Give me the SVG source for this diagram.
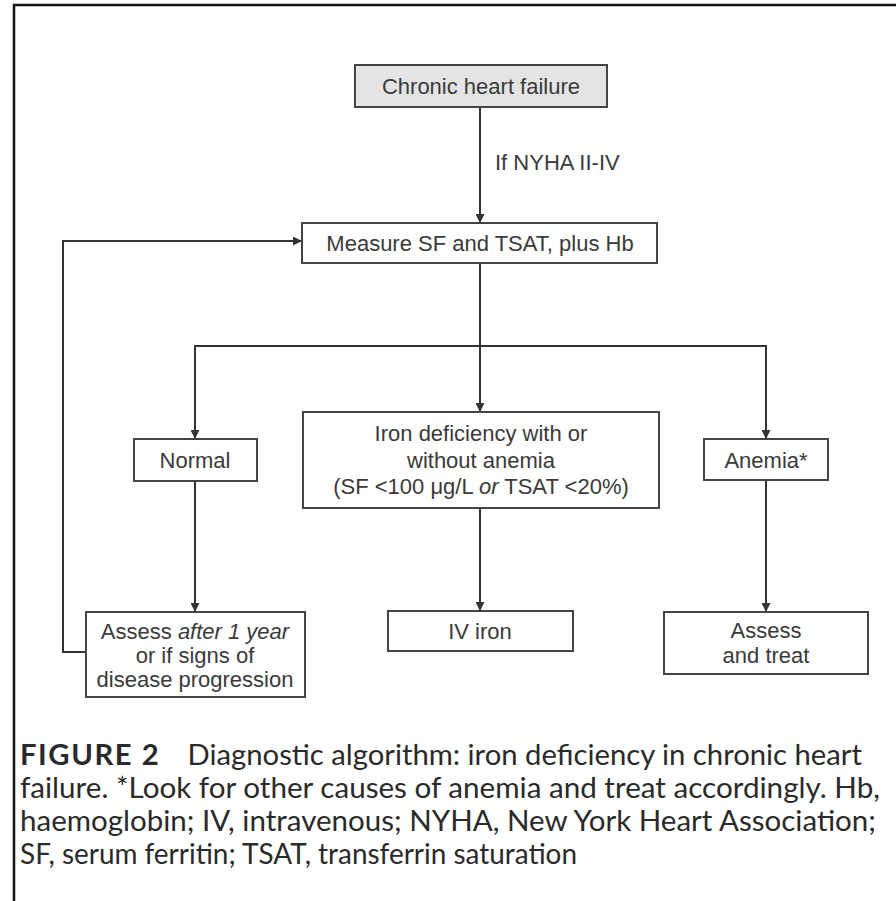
<svg xmlns="http://www.w3.org/2000/svg" width="896" height="901" viewBox="0 0 896 901">
<defs>
<marker id="ah" viewBox="0 0 10 10" refX="10" refY="5" markerWidth="9" markerHeight="9" markerUnits="userSpaceOnUse" orient="auto">
<path d="M0,0 L10,5 L0,10 Z" fill="#333"/>
</marker>
</defs>
<style>
.box{fill:#fff;stroke:#444;stroke-width:2}
.grey{fill:#e4e4e4}
.t{font-family:"Liberation Sans",Arial,sans-serif;font-size:22px;fill:#3a3a3a;text-anchor:middle}
.lbl{font-family:"Liberation Sans",Arial,sans-serif;font-size:22px;fill:#3a3a3a}
.c{fill:none;stroke:#333;stroke-width:2}
.cap{font-family:Lato,"Open Sans",sans-serif;font-size:28px;fill:#2a2a2a}
.frame{fill:none;stroke:#111;stroke-width:2.5}
</style>
<rect width="896" height="901" fill="#fff"/>
<path class="frame" d="M14,901 V5 H896"/>
<g id="connectors">
<path class="c" d="M480,107 V223" marker-end="url(#ah)"/>
<path class="c" d="M86,652 H63 V241 H302" marker-end="url(#ah)"/>
<path class="c" d="M480,263 V346 H195 V439" marker-end="url(#ah)"/>
<path class="c" d="M480,346 V412" marker-end="url(#ah)"/>
<path class="c" d="M480,346 H766 V439" marker-end="url(#ah)"/>
<path class="c" d="M195,481 V612" marker-end="url(#ah)"/>
<path class="c" d="M480,508 V611" marker-end="url(#ah)"/>
<path class="c" d="M766,480 V612" marker-end="url(#ah)"/>
<text class="lbl" x="495" y="170">If NYHA II-IV</text>
</g>
<g id="chf">
<rect class="box grey" x="355" y="65" width="252" height="42"/>
<text class="t" x="481" y="94">Chronic heart failure</text>
</g>
<g id="measure">
<rect class="box" x="302" y="223" width="355" height="40"/>
<text class="t" x="480" y="251">Measure SF and TSAT, plus Hb</text>
</g>
<g id="normal">
<rect class="box" x="134" y="439" width="123" height="42"/>
<text class="t" x="195" y="468">Normal</text>
</g>
<g id="iron">
<rect class="box" x="303" y="412" width="356" height="96"/>
<text class="t" x="481" y="441">Iron deficiency with or</text>
<text class="t" x="481" y="468">without anemia</text>
<text class="t" x="481" y="494">(SF &lt;100 μg/L <tspan font-style="italic">or</tspan> TSAT &lt;20%)</text>
</g>
<g id="anemia">
<rect class="box" x="704" y="439" width="124" height="41"/>
<text class="t" x="766" y="468">Anemia*</text>
</g>
<g id="assess1">
<rect class="box" x="86" y="612" width="219" height="85"/>
<text class="t" x="195" y="639">Assess <tspan font-style="italic">after 1 year</tspan></text>
<text class="t" x="195" y="663">or if signs of</text>
<text class="t" x="195" y="687">disease progression</text>
</g>
<g id="iviron">
<rect class="box" x="388" y="611" width="185" height="40"/>
<text class="t" x="480" y="639">IV iron</text>
</g>
<g id="assesstreat">
<rect class="box" x="664" y="612" width="204" height="62"/>
<text class="t" x="766" y="638">Assess</text>
<text class="t" x="766" y="663">and treat</text>
</g>
<g id="caption">
<text class="cap" x="20" y="765" textLength="842" lengthAdjust="spacingAndGlyphs"><tspan font-weight="bold" letter-spacing="1.5">FIGURE 2</tspan><tspan dx="26">Diagnostic algorithm: iron deficiency in chronic heart</tspan></text>
<text class="cap" x="20" y="798" textLength="860" lengthAdjust="spacingAndGlyphs">failure. *Look for other causes of anemia and treat accordingly. Hb,</text>
<text class="cap" x="20" y="831" textLength="856" lengthAdjust="spacingAndGlyphs">haemoglobin; IV, intravenous; NYHA, New York Heart Association;</text>
<text class="cap" x="20" y="864" textLength="557" lengthAdjust="spacingAndGlyphs">SF, serum ferritin; TSAT, transferrin saturation</text>
</g>
</svg>
